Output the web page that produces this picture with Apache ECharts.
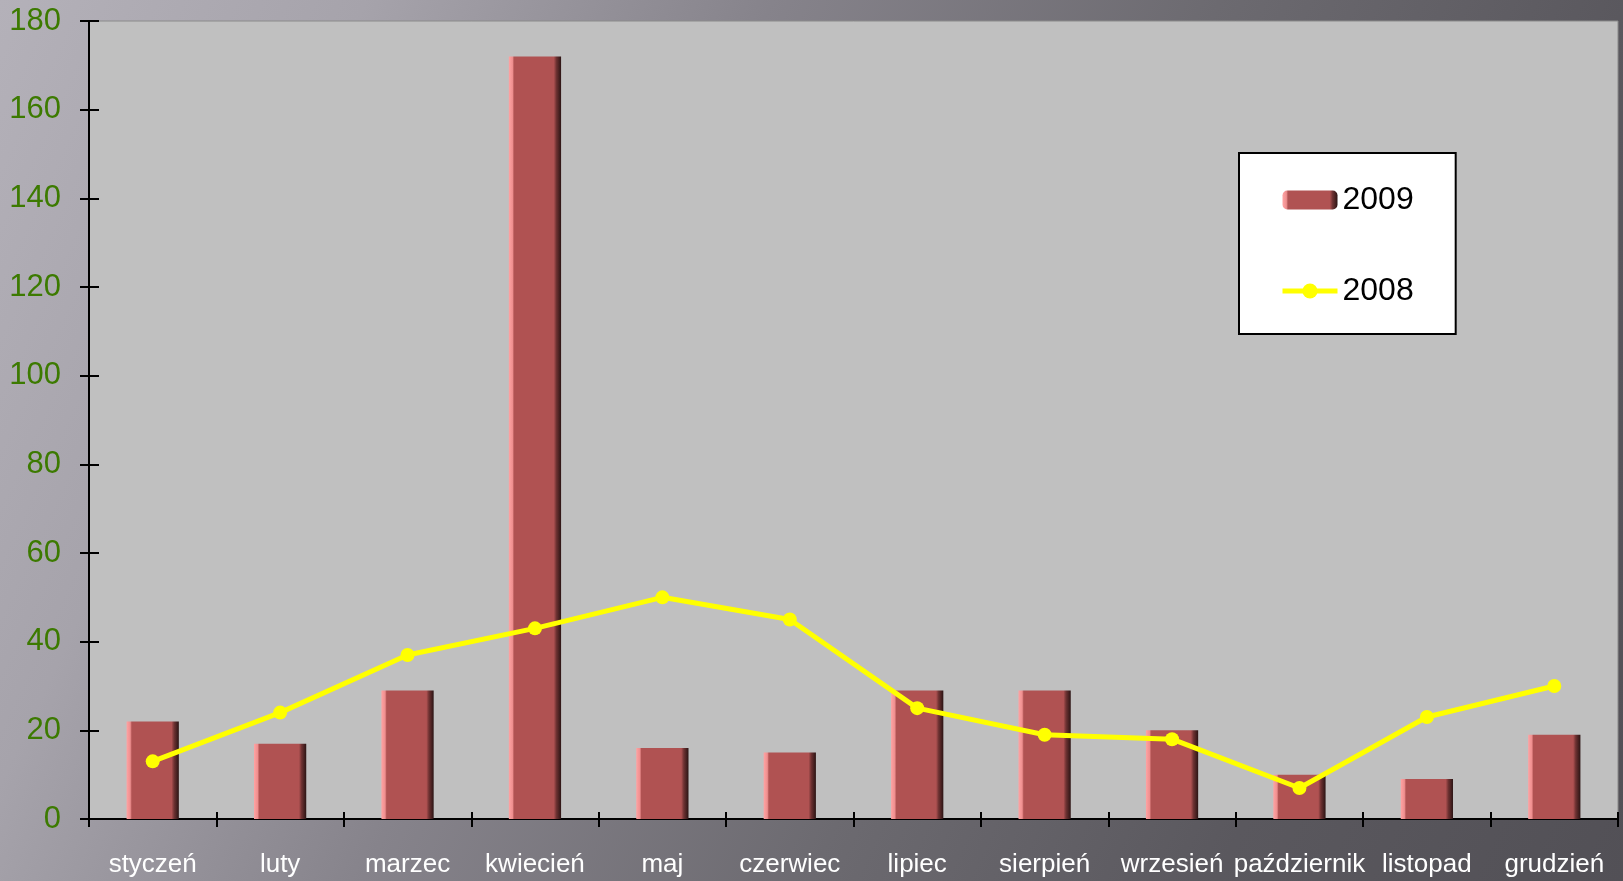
<!DOCTYPE html>
<html>
<head>
<meta charset="utf-8">
<script src="https://cdn.jsdelivr.net/npm/echarts@6/dist/echarts.min.js"></script>
<style>
html,body{margin:0;padding:0;width:1623px;height:881px;overflow:hidden;}
body{background:linear-gradient(115deg,#b4b1b9 0%,#a6a3ab 18%,#86838b 38%,#6c6a70 60%,#5a585e 80%,#525056 100%);}
#chart{width:1623px;height:881px;}
</style>
</head>
<body>
<div id="chart"></div>
<script>
const categories = ['styczeń','luty','marzec','kwiecień','maj','czerwiec','lipiec','sierpień','wrzesień','październik','listopad','grudzień'];
const values2009 = [22, 17, 29, 172, 16, 15, 29, 29, 20, 10, 9, 19];
const values2008 = [13, 24, 37, 43, 50, 45, 25, 19, 18, 7, 23, 30];
const yTicks = {min: 0, max: 180, interval: 20};

const FONT = 'Liberation Sans, Arial, sans-serif';
const barGradient = new echarts.graphic.LinearGradient(0, 0, 1, 0, [
  {offset: 0, color: '#ffa3a3'},
  {offset: 0.07, color: '#ef8f8f'},
  {offset: 0.1, color: '#b05252'},
  {offset: 0.86, color: '#b05252'},
  {offset: 0.91, color: '#6e3232'},
  {offset: 1, color: '#2b1414'}
]);

const chart = echarts.init(document.getElementById('chart'), null, {renderer: 'canvas'});
chart.setOption({
  backgroundColor: 'transparent',
  animation: false,
  grid: {
    left: 89, top: 21, right: 5, bottom: 62,
    show: true, backgroundColor: '#c0c0c0', borderColor: '#8a8a8a', borderWidth: 1
  },
  legend: {
    orient: 'vertical',
    left: 1239, top: 153,
    backgroundColor: '#ffffff',
    borderColor: '#000000', borderWidth: 2,
    padding: [31, 42, 27, 41],
    itemWidth: 55, itemHeight: 19, itemGap: 59,
    lineStyle: {width: 5},
    textStyle: {fontFamily: FONT, fontSize: 32, color: '#000', lineHeight: 32},
    data: ['2009', '2008']
  },
  xAxis: [{
    type: 'category',
    data: categories,
    boundaryGap: true,
    axisLine: {show: true, lineStyle: {color: '#000', width: 2}},
    axisTick: {show: true, length: 8, lineStyle: {color: '#000', width: 2}},
    axisLabel: {color: '#ffffff', fontSize: 26, fontFamily: FONT, margin: 33, interval: 0},
    splitLine: {show: false}
  }, {
    type: 'category',
    data: categories,
    position: 'bottom',
    boundaryGap: true,
    axisLine: {show: false},
    axisTick: {show: true, inside: true, length: 7, lineStyle: {color: '#000', width: 2}},
    axisLabel: {show: false},
    splitLine: {show: false}
  }],
  yAxis: [{
    type: 'value',
    min: yTicks.min, max: yTicks.max, interval: yTicks.interval,
    axisLine: {show: true, lineStyle: {color: '#000', width: 2}},
    axisTick: {show: true, length: 9, lineStyle: {color: '#000', width: 2}},
    axisLabel: {color: '#3c7a00', fontSize: 31, fontFamily: FONT, margin: 28},
    splitLine: {show: false}
  }, {
    type: 'value',
    position: 'left',
    min: yTicks.min, max: yTicks.max, interval: yTicks.interval,
    axisLine: {show: false},
    axisTick: {show: true, inside: true, length: 10, lineStyle: {color: '#000', width: 2}},
    axisLabel: {show: false},
    splitLine: {show: false}
  }],
  series: [{
    name: '2009',
    type: 'bar',
    data: values2009,
    barWidth: '41%',
    itemStyle: {color: barGradient},
    z: 2
  }, {
    name: '2008',
    type: 'line',
    data: values2008,
    symbol: 'circle',
    symbolSize: 14,
    lineStyle: {color: '#ffff00', width: 5},
    itemStyle: {color: '#ffff00'},
    z: 3
  }]
});
</script>
</body>
</html>
